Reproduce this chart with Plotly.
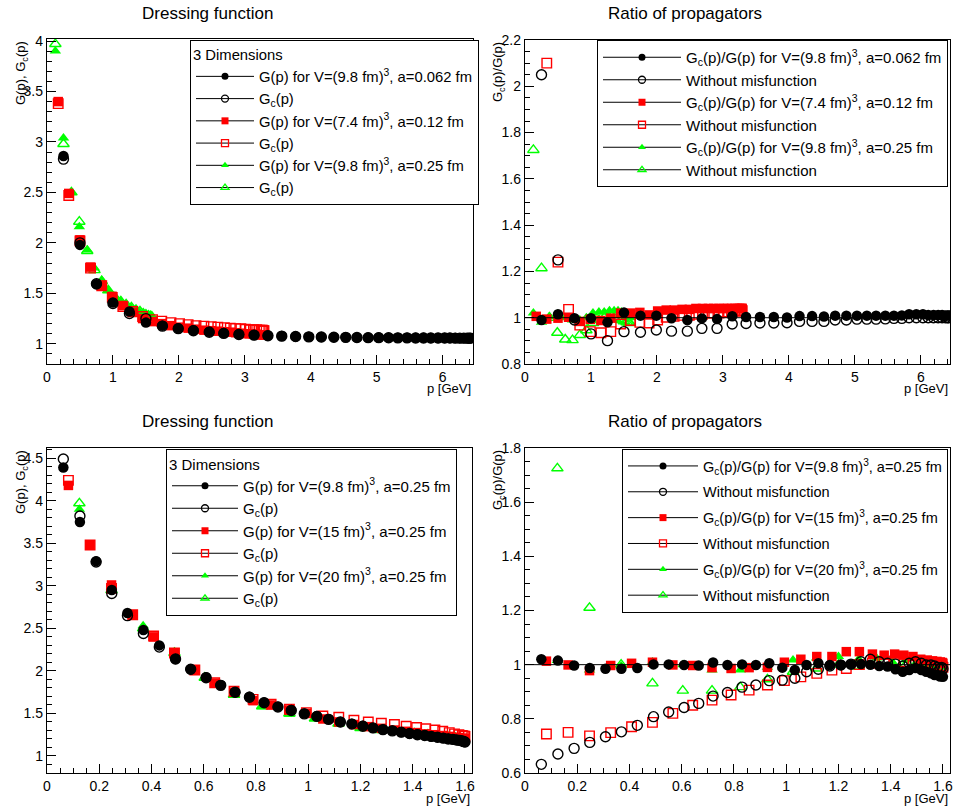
import plotly.graph_objects as go

W, H = 953, 808
FONT = "Liberation Sans, Arial, Helvetica, sans-serif"

# ---------------- data: top panels (different lattice spacings) ----------------
top_black_p = [0.25, 0.50, 0.75, 1.00, 1.25, 1.50, 1.75, 1.99, 2.22, 2.46, 2.68, 2.91, 3.14, 3.35,
               3.56, 3.77, 3.97, 4.16, 4.35, 4.53, 4.70, 4.87, 5.03, 5.18, 5.32, 5.46, 5.59, 5.71,
               5.82, 5.93, 6.03, 6.11, 6.19, 6.26, 6.32, 6.37, 6.40, 6.42]
top_black_G = [2.86, 1.98, 1.59, 1.41, 1.32, 1.21, 1.18, 1.155, 1.135, 1.12, 1.107, 1.095, 1.088,
               1.082, 1.077, 1.073, 1.070, 1.068, 1.066, 1.065, 1.063, 1.062, 1.062, 1.061, 1.060,
               1.060, 1.059, 1.059, 1.058, 1.058, 1.057, 1.057, 1.057, 1.056, 1.056, 1.056, 1.056, 1.056]
top_black_Gc = [2.83, 2.00, 1.595, 1.40, 1.30, 1.25, 1.175, 1.15, 1.13, 1.115, 1.103, 1.092, 1.086,
                1.080, 1.076, 1.072, 1.069, 1.067, 1.065, 1.064, 1.062, 1.061, 1.061, 1.060, 1.059,
                1.059, 1.058, 1.058, 1.058, 1.057, 1.057, 1.057, 1.056, 1.056, 1.056, 1.056, 1.056, 1.056]
top_black_ratio = [0.99, 1.015, 0.998, 0.998, 0.98, 1.022, 1.009, 1.009, 0.998, 0.99, 0.997, 0.994,
                   1.006, 1.003, 1.003, 1.003, 1.001, 1.007, 1.007, 1.005, 1.009, 1.009, 1.009, 1.009,
                   1.009, 1.009, 1.009, 1.010, 1.015, 1.015, 1.015, 1.012, 1.012, 1.012, 1.012, 1.010,
                   1.010, 1.010]
top_black_ratio0 = [2.05, 1.25, 0.99, 0.93, 0.901, 0.94, 0.937, 0.947, 0.942, 0.942, 0.954, 0.954,
                    0.973, 0.975, 0.977, 0.977, 0.978, 0.984, 0.984, 0.984, 0.99, 0.99, 0.994, 0.994,
                    0.994, 0.995, 0.997, 0.997, 1.0, 1.0, 1.0, 1.0, 1.0, 1.0, 1.0, 1.0, 1.0, 1.0]

top_red_p = [0.17, 0.33, 0.50, 0.66, 0.83, 0.99, 1.15, 1.30, 1.45, 1.60, 1.74, 1.88, 2.01, 2.14,
             2.26, 2.38, 2.49, 2.59, 2.69, 2.78, 2.86, 2.94, 3.01, 3.07, 3.13, 3.18, 3.22, 3.25,
             3.27, 3.285, 3.29]
top_red_G = [3.40, 2.49, 2.03, 1.76, 1.58, 1.47, 1.38, 1.31, 1.25, 1.22, 1.20, 1.18, 1.165, 1.155,
             1.145, 1.135, 1.13, 1.125, 1.12, 1.115, 1.11, 1.105, 1.10, 1.10, 1.095, 1.095, 1.09,
             1.09, 1.09, 1.09, 1.09]
top_red_Gc = [3.38, 2.47, 2.02, 1.75, 1.575, 1.46, 1.37, 1.32, 1.27, 1.24, 1.225, 1.21, 1.20, 1.19,
              1.18, 1.175, 1.17, 1.165, 1.16, 1.155, 1.15, 1.15, 1.145, 1.14, 1.14, 1.14, 1.135,
              1.135, 1.135, 1.13, 1.13]
top_red_ratio = [1.006, 0.994, 0.998, 1.002, 0.984, 0.993, 0.988, 0.998, 1.02, 1.02, 1.023, 1.012,
                 1.029, 1.033, 1.033, 1.036, 1.036, 1.04, 1.04, 1.04, 1.04, 1.04, 1.04, 1.04, 1.04,
                 1.04, 1.04, 1.04, 1.04, 1.04, 1.04]
top_red_ratio0 = [None, 2.10, 1.24, 1.036, 0.968, 0.94, 0.935, 0.94, 0.973, 0.988, 0.98, 0.977,
                  0.99, 1.002, 1.006, 1.01, 1.01, 1.015, 1.015, 1.02, 1.02, 1.02, 1.025, 1.025,
                  1.025, 1.03, 1.03, 1.03, 1.03, 1.03, 1.03]

top_green_p = [0.127, 0.25, 0.37, 0.49, 0.61, 0.72, 0.83, 0.93, 1.03, 1.12, 1.20, 1.28, 1.35, 1.41,
               1.46, 1.50, 1.54, 1.57, 1.59]
top_green_G = [3.90, 3.04, 2.50, 2.16, 1.93, 1.75, 1.63, 1.53, 1.47, 1.42, 1.385, 1.35, 1.325, 1.31,
               1.295, 1.285, 1.275, 1.27, 1.265]
top_green_Gc = [3.97, 2.98, 2.50, 2.21, 1.92, 1.73, 1.62, 1.53, 1.46, 1.42, 1.39, 1.36, 1.335, 1.32,
                1.30, 1.29, 1.28, 1.275, 1.27]
top_green_ratio = [1.02, 0.98, 1.005, 1.015, 1.0, 0.99, 0.99, 1.0, 1.02, 1.025, 1.025, 1.03, 1.03,
                   1.03, 1.025, 1.02, 1.01, 1.005, 1.0]
top_green_ratio0 = [1.725, 1.214, 1.0, 0.935, 0.906, 0.903, 0.925, 0.946, 0.977, 0.99, 1.0, 1.0, 1.0,
                    0.995, 0.99, 0.985, 0.98, 0.978, 0.977]

# ---------------- data: bottom panels (different volumes, a=0.25 fm) ----------------
bot_black_p = [0.0625, 0.126, 0.188, 0.248, 0.308, 0.369, 0.43, 0.492, 0.55, 0.609, 0.665, 0.72,
               0.775, 0.831, 0.884, 0.935, 0.985, 1.033, 1.078, 1.123, 1.167, 1.209, 1.248, 1.286,
               1.322, 1.356, 1.388, 1.418, 1.446, 1.471, 1.495, 1.517, 1.536, 1.554, 1.568, 1.58,
               1.589, 1.595, 1.60]
bot_black_G = [4.39, 3.75, 3.29, 2.95, 2.68, 2.48, 2.30, 2.14, 2.02, 1.925, 1.835, 1.75, 1.695,
               1.63, 1.58, 1.54, 1.50, 1.47, 1.435, 1.40, 1.38, 1.355, 1.33, 1.31, 1.30, 1.28,
               1.265, 1.255, 1.243, 1.23, 1.22, 1.21, 1.203, 1.196, 1.188, 1.185, 1.176, 1.17, 1.165]
bot_black_Gc = [4.49, 3.82, 3.28, 2.91, 2.65, 2.44, 2.28, 2.14, 2.02, 1.92, 1.83, 1.75, 1.69,
                1.625, 1.575, 1.535, 1.495, 1.465, 1.43, 1.40, 1.375, 1.35, 1.33, 1.31, 1.295,
                1.28, 1.265, 1.25, 1.24, 1.23, 1.22, 1.21, 1.2, 1.195, 1.188, 1.183, 1.176, 1.17, 1.165]
bot_black_ratio = [1.02, 1.015, 0.997, 0.988, 0.985, 0.985, 0.988, 1.001, 1.001, 0.999, 0.997,
                   1.008, 0.999, 1.001, 0.999, 1.005, 0.989, 0.98, 0.999, 1.005, 0.999, 0.999,
                   1.001, 1.002, 1.0, 0.995, 0.993, 0.983, 0.974, 0.98, 0.988, 0.98, 0.974, 0.968,
                   0.962, 0.962, 0.956, 0.96, 0.955]
bot_black_ratio0 = [0.632, 0.67, 0.691, 0.713, 0.734, 0.752, 0.776, 0.808, 0.825, 0.842, 0.857,
                    0.884, 0.897, 0.917, 0.925, 0.941, 0.943, 0.95, 0.974, 0.983, 0.995, 0.999,
                    1.002, 1.011, 1.02, 1.011, 1.005, 1.002, 0.995, 1.005, 1.011, 1.005, 0.999,
                    0.999, 0.995, 0.99, 0.985, 0.99, 0.985]

bot_red_p = [0.082, 0.165, 0.247, 0.328, 0.408, 0.488, 0.566, 0.642, 0.716, 0.789, 0.858, 0.928,
             0.993, 1.056, 1.117, 1.175, 1.23, 1.28, 1.33, 1.375, 1.415, 1.45, 1.485, 1.515, 1.54,
             1.56, 1.577, 1.59, 1.597, 1.60]
bot_red_G = [4.18, 3.48, 3.01, 2.66, 2.40, 2.21, 2.01, 1.855, 1.75, 1.65, 1.60, 1.54, 1.50, 1.435,
             1.40, 1.37, 1.345, 1.325, 1.305, 1.29, 1.275, 1.26, 1.25, 1.24, 1.23, 1.22, 1.215,
             1.21, 1.205, 1.20]
bot_red_Gc = [4.24, 3.48, 2.97, 2.66, 2.41, 2.21, 2.01, 1.86, 1.76, 1.665, 1.61, 1.55, 1.51, 1.47,
              1.455, 1.42, 1.40, 1.385, 1.37, 1.35, 1.335, 1.32, 1.305, 1.29, 1.275, 1.26, 1.25,
              1.24, 1.235, 1.23]
bot_red_ratio = [1.013, 0.999, 0.978, 0.997, 1.005, 1.009, 0.999, 0.997, 0.989, 0.986, 0.989, 0.99,
                 1.009, 1.02, 1.03, 1.03, 1.048, 1.048, 1.039, 1.035, 1.039, 1.035, 1.03, 1.02,
                 1.017, 1.014, 1.012, 1.01, 1.008, 1.005]
bot_red_ratio0 = [0.744, 0.75, 0.737, 0.749, 0.771, 0.787, 0.82, 0.85, 0.869, 0.888, 0.906, 0.925,
                  0.941, 0.955, 0.968, 0.98, 0.986, 1.0, 1.005, 1.011, 1.014, 1.011, 1.008, 1.008,
                  1.005, 1.0, 0.999, 0.995, 0.993, 0.99]

bot_green_p = [0.124, 0.247, 0.368, 0.488, 0.604, 0.716, 0.824, 0.928, 1.026, 1.116, 1.20, 1.277,
               1.346, 1.406, 1.458, 1.50, 1.535, 1.562, 1.582, 1.595]
bot_green_G = [3.90, 2.99, 2.53, 2.225, 1.91, 1.71, 1.58, 1.49, 1.44, 1.376, 1.32, 1.30, 1.28,
               1.26, 1.245, 1.23, 1.22, 1.21, 1.20, 1.19]
bot_green_Gc = [3.97, 2.95, 2.50, 2.21, 1.92, 1.72, 1.585, 1.50, 1.44, 1.38, 1.33, 1.305, 1.285,
                1.265, 1.25, 1.235, 1.225, 1.215, 1.205, 1.195]
bot_green_ratio = [1.015, 0.98, 0.995, 1.01, 1.0, 0.98, 0.98, 0.99, 1.017, 1.025, 1.03, 1.02, 1.025,
                   1.011, 1.017, 1.011, 1.005, 1.0, 0.995, 0.99]
bot_green_ratio0 = [1.725, 1.21, 1.0, 0.931, 0.904, 0.904, 0.917, 0.946, 0.974, 0.986, 1.0, 0.993,
                    1.005, 1.0, 1.0, 0.995, 0.99, 0.99, 0.985, 0.985]

# ---------------- legend texts ----------------
leg_tl = ["G(p) for V=(9.8 fm)<sup>3</sup>, a=0.062 fm", "G<sub>c</sub>(p)",
          "G(p) for V=(7.4 fm)<sup>3</sup>, a=0.12 fm", "G<sub>c</sub>(p)",
          "G(p) for V=(9.8 fm)<sup>3</sup>, a=0.25 fm", "G<sub>c</sub>(p)"]
leg_tr = ["G<sub>c</sub>(p)/G(p) for V=(9.8 fm)<sup>3</sup>, a=0.062 fm", "Without misfunction",
          "G<sub>c</sub>(p)/G(p) for V=(7.4 fm)<sup>3</sup>, a=0.12 fm", "Without misfunction",
          "G<sub>c</sub>(p)/G(p) for V=(9.8 fm)<sup>3</sup>, a=0.25 fm", "Without misfunction"]
leg_bl = ["G(p) for V=(9.8 fm)<sup>3</sup>, a=0.25 fm", "G<sub>c</sub>(p)",
          "G(p) for V=(15 fm)<sup>3</sup>, a=0.25 fm", "G<sub>c</sub>(p)",
          "G(p) for V=(20 fm)<sup>3</sup>, a=0.25 fm", "G<sub>c</sub>(p)"]
leg_br = ["G<sub>c</sub>(p)/G(p) for V=(9.8 fm)<sup>3</sup>, a=0.25 fm", "Without misfunction",
          "G<sub>c</sub>(p)/G(p) for V=(15 fm)<sup>3</sup>, a=0.25 fm", "Without misfunction",
          "G<sub>c</sub>(p)/G(p) for V=(20 fm)<sup>3</sup>, a=0.25 fm", "Without misfunction"]

BLACK, RED, GREEN = "#000000", "#ff0000", "#00ff00"
STY = [(BLACK, "circle"), (BLACK, "circle-open"), (RED, "square"), (RED, "square-open"),
       (GREEN, "triangle-up"), (GREEN, "triangle-up-open")]
SIZES = {"circle": 10.5, "circle-open": 10, "square": 9.5, "square-open": 9.5,
         "triangle-up": 10, "triangle-up-open": 10}

fig = go.Figure()


def add_panel(ax, series):
    for x, y, k in series:
        col, sym = STY[k]
        fig.add_trace(go.Scatter(
            x=x, y=y, mode="markers", showlegend=False, xaxis="x" + ax, yaxis="y" + ax,
            marker=dict(symbol=sym, color=col, size=SIZES[sym],
                        line=dict(color=col, width=1.4 if "open" in sym else 0)),
            hoverinfo="skip"))


def add_legend(legname, names, ax):
    for i, (name, (col, sym)) in enumerate(zip(names, STY)):
        fig.add_trace(go.Scatter(
            x=[None], y=[None], mode="lines+markers", name=name, legend=legname,
            legendgroup=legname + str(i), xaxis="x" + ax, yaxis="y" + ax,
            line=dict(color="black", width=1),
            marker=dict(symbol=sym, color=col, size=7,
                        line=dict(color=col, width=1.3 if "open" in sym else 0))))


add_panel("", [(top_green_p, top_green_Gc, 5), (top_green_p, top_green_G, 4),
               (top_red_p, top_red_Gc, 3), (top_red_p, top_red_G, 2),
               (top_black_p, top_black_Gc, 1), (top_black_p, top_black_G, 0)])
add_panel("2", [(top_green_p, top_green_ratio0, 5), (top_green_p, top_green_ratio, 4),
                (top_red_p, top_red_ratio0, 3), (top_red_p, top_red_ratio, 2),
                (top_black_p, top_black_ratio0, 1), (top_black_p, top_black_ratio, 0)])
add_panel("3", [(bot_green_p, bot_green_Gc, 5), (bot_green_p, bot_green_G, 4),
                (bot_red_p, bot_red_Gc, 3), (bot_red_p, bot_red_G, 2),
                (bot_black_p, bot_black_Gc, 1), (bot_black_p, bot_black_G, 0)])
add_panel("4", [(bot_green_p, bot_green_ratio0, 5), (bot_green_p, bot_green_ratio, 4),
                (bot_red_p, bot_red_ratio0, 3), (bot_red_p, bot_red_ratio, 2),
                (bot_black_p, bot_black_ratio0, 1), (bot_black_p, bot_black_ratio, 0)])

add_legend("legend", leg_tl, "")
add_legend("legend2", leg_tr, "2")
add_legend("legend3", leg_bl, "3")
add_legend("legend4", leg_br, "4")


def fx(px):
    return px / W


def fy(py):
    return 1 - py / H


def axis(dom, rng, dtick, minor, anchor):
    return dict(domain=dom, range=rng, dtick=dtick, tick0=0, ticks="inside", ticklen=9,
                tickwidth=1, tickcolor="black", showline=True, linecolor="black", linewidth=1.3,
                mirror=True, showgrid=False, zeroline=False, anchor=anchor, automargin=False,
                tickfont=dict(family=FONT, size=14, color="black"),
                minor=dict(dtick=minor, tick0=0, ticks="inside", ticklen=5, tickcolor="black",
                           tickwidth=1, showgrid=False))


lay = dict(width=W, height=H, margin=dict(l=0, r=0, t=0, b=0, autoexpand=False),
           paper_bgcolor="white", plot_bgcolor="white", font=dict(family=FONT, color="black"))

lay["xaxis"] = axis([fx(47), fx(473)], [0, 6.46], 1, 0.2, "y")
lay["yaxis"] = axis([fy(364), fy(39)], [0.8, 4.02], 0.5, 0.1, "x")
lay["xaxis2"] = axis([fx(525), fx(950)], [0, 6.44], 1, 0.2, "y2")
lay["yaxis2"] = axis([fy(364), fy(40)], [0.8, 2.2], 0.2, 0.05, "x2")
lay["xaxis3"] = axis([fx(47), fx(472)], [0, 1.627], 0.2, 0.05, "y3")
lay["yaxis3"] = axis([fy(773), fy(448)], [0.8, 4.62], 0.5, 0.1, "x3")
lay["xaxis4"] = axis([fx(525), fx(950)], [0, 1.627], 0.2, 0.05, "y4")
lay["yaxis4"] = axis([fy(773), fy(448)], [0.6, 1.8], 0.2, 0.05, "x4")

for k in ["yaxis", "yaxis2", "yaxis3", "yaxis4"]:
    lay[k]["tickformat"] = "~g"


def legend(x, y, itemwidth, fsize, title=None, gap=0):
    f = dict(family=FONT, size=fsize, color="black")
    d = dict(x=fx(x), y=fy(y), xanchor="left", yanchor="top", bgcolor="white",
             bordercolor="black", borderwidth=1, font=f, itemwidth=itemwidth,
             tracegroupgap=gap, traceorder="grouped")
    if title:
        d["title"] = dict(text=title, font=f)
    return d


lay["legend"] = legend(190, 40, 58, 14.8, "3 Dimensions")
lay["legend2"] = legend(597, 40, 78, 15)
lay["legend3"] = legend(166, 449, 66, 15, "3 Dimensions")
lay["legend4"] = legend(622, 449, 70, 14.5, gap=4)

TFONT = dict(family=FONT, size=17, color="black")
AFONT = dict(family=FONT, size=13, color="black")
ann = []
for txt, x, y in [("Dressing function", 207, 13), ("Ratio of propagators", 685, 13),
                  ("Dressing function", 207, 421), ("Ratio of propagators", 685, 421)]:
    ann.append(dict(text=txt, x=fx(x), y=fy(y), xref="paper", yref="paper", showarrow=False,
                    xanchor="center", yanchor="middle", font=TFONT))
for txt, x, y in [("G(p), G<sub>c</sub>(p)", 21, 39), ("G<sub>c</sub>(p)/G(p)", 498, 40),
                  ("G(p), G<sub>c</sub>(p)", 21, 448), ("G<sub>c</sub>(p)/G(p)", 498, 448)]:
    ann.append(dict(text=txt, x=fx(x), y=fy(y), xref="paper", yref="paper", showarrow=False,
                    xanchor="center", yanchor="top", textangle=-90, font=AFONT))
for x, y in [(473, 388), (950, 388), (472, 798), (950, 798)]:
    ann.append(dict(text="p [GeV]", x=fx(x), y=fy(y), xref="paper", yref="paper",
                    showarrow=False, xanchor="right", yanchor="middle", font=AFONT))
lay["annotations"] = ann

lay["shapes"] = [
    dict(type="line", xref="x2 domain", x0=0, x1=1, yref="y2", y0=1, y1=1,
         line=dict(color="black", width=1)),
    dict(type="line", xref="x4 domain", x0=0, x1=1, yref="y4", y0=1, y1=1,
         line=dict(color="black", width=1)),
]

fig.update_layout(**lay)
fig.write_html("out.html", config={"displayModeBar": False},
               post_script="document.body.style.margin='0px';"
                           "document.body.style.overflow='hidden';")
